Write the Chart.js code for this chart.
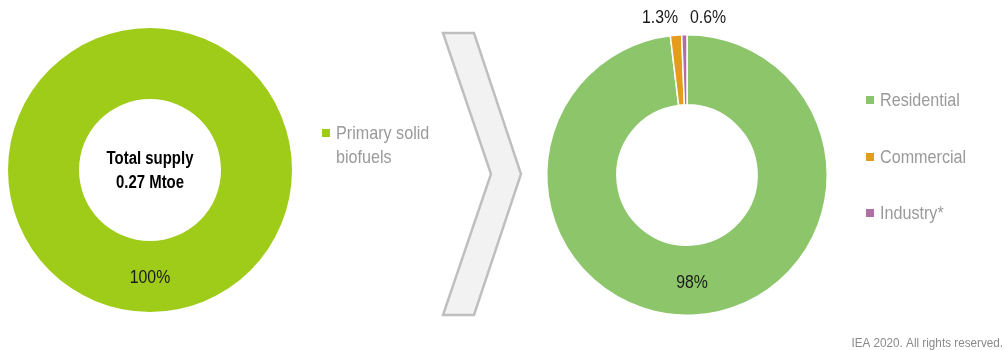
<!DOCTYPE html>
<html>
<head>
<meta charset="utf-8">
<script src="https://cdn.jsdelivr.net/npm/chart.js@4.4.0/dist/chart.umd.min.js"></script>
<style>
  html, body { margin: 0; padding: 0; background: #fff; }
  #wrap { position: relative; width: 1006px; height: 350px; }
  #leftBox { position: absolute; left: 0; top: 0; width: 540px; height: 350px; }
  #rightBox { position: absolute; left: 540px; top: 0; width: 466px; height: 350px; }
</style>
</head>
<body>
<div id="wrap">
  <div id="leftBox"><canvas id="supplyChart"></canvas></div>
  <div id="rightBox"><canvas id="useChart"></canvas></div>
</div>
<script>
//** DATA */
const supplyLabels = ['Primary solid biofuels'];
const supplyValues = [100];
const supplyColors = ['#9FCB19'];

const useLabels = ['Residential', 'Commercial', 'Industry*'];
const useValues = [98.1, 1.3, 0.6];
const usePctText = ['98%', '1.3%', '0.6%'];
const useColors = ['#8DC56B', '#E59B1B', '#B06FA4'];

const centerText = ['Total supply', '0.27 Mtoe'];
const sourceText = 'IEA 2020. All rights reserved.';

const fontFamily = "'Liberation Sans', Arial, sans-serif";

//** draws condensed text (no narrow font installed, so squeeze it) */
function narrowText(c, text, x, y, size, color, align, squeeze, weight) {
  c.save();
  c.translate(x, y);
  c.scale(squeeze, 1);
  c.font = (weight || '') + ' ' + size + 'px ' + fontFamily;
  c.fillStyle = color;
  c.textAlign = align;
  c.textBaseline = 'middle';
  c.fillText(text, 0, 0);
  c.restore();
}

//** LEFT CHART EXTRAS: centre text, 100% label, legend, chevron */
const supplyExtras = {
  id: 'supplyExtras',
  afterDraw(chart) {
    const c = chart.ctx;
    const arc = chart.getDatasetMeta(0).data[0];
    const cx = arc.x, cy = arc.y;
    c.save();
    narrowText(c, centerText[0], cx, cy - 11, 18, '#000', 'center', 0.83, 'bold');
    narrowText(c, centerText[1], cx, cy + 13, 18, '#000', 'center', 0.83, 'bold');

    const midR = (arc.innerRadius + arc.outerRadius) / 2;
    narrowText(c, supplyValues[0] + '%', cx, cy + midR + 2, 18, '#1a1a1a', 'center', 0.88);

    // legend
    c.fillStyle = supplyColors[0];
    c.fillRect(322, 129, 8, 8);
    narrowText(c, 'Primary solid', 336, 134, 19, '#9a9a9a', 'left', 0.85);
    narrowText(c, 'biofuels', 336, 158, 19, '#9a9a9a', 'left', 0.85);

    // chevron
    c.beginPath();
    c.moveTo(443, 33);
    c.lineTo(474, 33);
    c.lineTo(521, 174);
    c.lineTo(474, 315);
    c.lineTo(443, 315);
    c.lineTo(491, 174);
    c.closePath();
    c.fillStyle = '#F2F2F2';
    c.fill();
    c.lineWidth = 2.5;
    c.strokeStyle = '#BFBFBF';
    c.stroke();
    c.restore();
  }
};

//** RIGHT CHART EXTRAS: pct labels, legend, source */
const useExtras = {
  id: 'useExtras',
  afterDraw(chart) {
    const c = chart.ctx;
    const arcs = chart.getDatasetMeta(0).data;
    const cx = arcs[0].x, cy = arcs[0].y;
    c.save();
    const midR = (arcs[0].innerRadius + arcs[0].outerRadius) / 2;
    narrowText(c, usePctText[0], cx + 5, cy + midR + 3, 18, '#1a1a1a', 'center', 0.88);
    narrowText(c, usePctText[1], cx - 27, 18, 18, '#1a1a1a', 'center', 0.88);
    narrowText(c, usePctText[2], cx + 21, 18, 18, '#1a1a1a', 'center', 0.88);

    // legend
    const ys = [101, 158, 214];
    for (let i = 0; i < useLabels.length; i++) {
      c.fillStyle = useColors[i];
      c.fillRect(326, ys[i] - 5, 8, 8);
      narrowText(c, useLabels[i], 340, ys[i], 19, '#9a9a9a', 'left', 0.85);
    }

    // source
    narrowText(c, sourceText, 463, 343, 13, '#8a8a8a', 'right', 0.9);
    c.restore();
  }
};

const baseOptions = {
  responsive: true,
  maintainAspectRatio: false,
  animation: false,
  cutout: '50%',
  plugins: {
    legend: { display: false },
    tooltip: { enabled: false },
  },
};

new Chart(document.getElementById('supplyChart'), {
  type: 'doughnut',
  data: {
    labels: supplyLabels,
    datasets: [{
      data: supplyValues,
      backgroundColor: supplyColors,
      borderWidth: 0,
      hoverOffset: 0,
    }],
  },
  options: Object.assign({}, baseOptions, {
    layout: { padding: { left: 8, right: 248, top: 28, bottom: 38 } },
  }),
  plugins: [supplyExtras],
});

new Chart(document.getElementById('useChart'), {
  type: 'doughnut',
  data: {
    labels: useLabels,
    datasets: [{
      data: useValues,
      backgroundColor: useColors,
      borderColor: '#ffffff',
      borderWidth: 1.5,
      hoverOffset: 0,
    }],
  },
  options: Object.assign({}, baseOptions, {
    layout: { padding: { left: 6, right: 178, top: 34, bottom: 34 } },
  }),
  plugins: [useExtras],
});
</script>
</body>
</html>
